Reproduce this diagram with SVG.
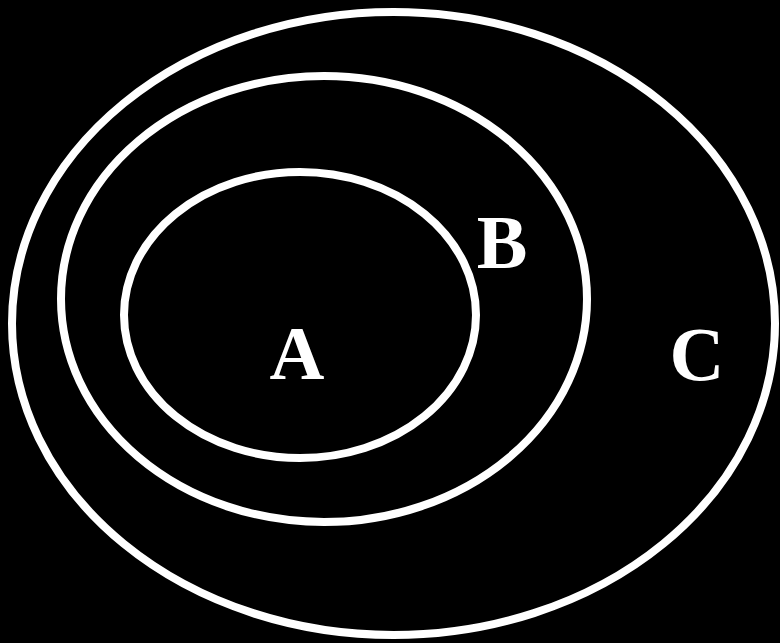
<svg xmlns="http://www.w3.org/2000/svg" width="780" height="643" viewBox="0 0 780 643">
<style>
.ring{fill:none;stroke:#fff;stroke-width:8}
.lbl{fill:#fff;font-weight:700;font-size:76px;text-anchor:middle}
</style>
<rect width="780" height="643" fill="#000"/>
<g id="C"><ellipse class="ring" cx="393.5" cy="323.5" rx="381.5" ry="311.5"/><text class="lbl" font-family="Liberation Serif, Times New Roman, Times, serif" x="697" y="380">C</text></g>
<g id="B"><ellipse class="ring" cx="324" cy="299" rx="263" ry="223"/><text class="lbl" font-family="Liberation Serif, Times New Roman, Times, serif" x="502" y="268">B</text></g>
<g id="A"><ellipse class="ring" cx="300" cy="315" rx="176" ry="143"/><text class="lbl" font-family="Liberation Serif, Times New Roman, Times, serif" x="297" y="379">A</text></g>
<g id="connectors"/>
</svg>
